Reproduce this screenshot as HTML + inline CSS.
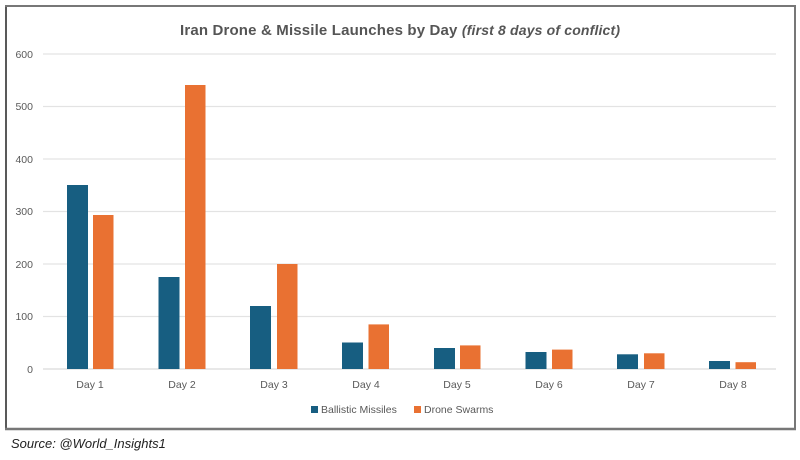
<!DOCTYPE html>
<html><head><style>body{margin:0;background:#fff;}</style></head><body>
<svg width="800" height="455" xmlns="http://www.w3.org/2000/svg" font-family="Liberation Sans, sans-serif">
<rect x="0" y="0" width="800" height="455" fill="#fff"/>
<rect x="6" y="6" width="789" height="423" fill="#fff" stroke="#222" stroke-width="1.5"/>
<line x1="5" y1="6" x2="796" y2="6" stroke="#777" stroke-width="2"/>
<line x1="5" y1="429" x2="796" y2="429" stroke="#777" stroke-width="2.5"/>
<line x1="795" y1="5" x2="795" y2="430" stroke="#777" stroke-width="2"/>
<text x="400" y="35" text-anchor="middle" font-size="15" font-weight="bold" fill="#555" textLength="440">Iran Drone &amp; Missile Launches by Day <tspan font-style="italic" font-size="14">(first 8 days of conflict)</tspan></text>
<g stroke="#e3e3e3" stroke-width="1.2">
<line x1="43" y1="54" x2="776" y2="54"/><line x1="43" y1="106.5" x2="776" y2="106.5"/>
<line x1="43" y1="159" x2="776" y2="159"/><line x1="43" y1="211.5" x2="776" y2="211.5"/>
<line x1="43" y1="264" x2="776" y2="264"/><line x1="43" y1="316.5" x2="776" y2="316.5"/>
<line x1="43" y1="369" x2="776" y2="369" stroke="#d9d9d9"/>
</g>
<g font-size="10.5" fill="#595959" text-anchor="end">
<text x="33" y="58">600</text><text x="33" y="110">500</text><text x="33" y="163">400</text>
<text x="33" y="215">300</text><text x="33" y="268">200</text><text x="33" y="320">100</text><text x="33" y="373">0</text>
</g>
<g fill="#175e81">
<rect x="67" y="185" width="21" height="184"/>
<rect x="158.5" y="277" width="21" height="92"/>
<rect x="250" y="306" width="21" height="63"/>
<rect x="342" y="342.5" width="21" height="26.5"/>
<rect x="434" y="348" width="21" height="21"/>
<rect x="525.5" y="352" width="21" height="17"/>
<rect x="617" y="354.3" width="21" height="14.7"/>
<rect x="709" y="361" width="21" height="8"/>
</g>
<g fill="#e97132">
<rect x="93" y="215" width="20.5" height="154"/>
<rect x="185" y="85" width="20.5" height="284"/>
<rect x="277" y="264" width="20.5" height="105"/>
<rect x="368.5" y="324.4" width="20.5" height="44.6"/>
<rect x="460" y="345.4" width="20.5" height="23.6"/>
<rect x="552" y="349.6" width="20.5" height="19.4"/>
<rect x="644" y="353.3" width="20.5" height="15.7"/>
<rect x="735.5" y="362.2" width="20.5" height="6.8"/>
</g>
<g font-size="10.5" fill="#595959" text-anchor="middle">
<text x="90" y="388">Day 1</text><text x="182" y="388">Day 2</text><text x="274" y="388">Day 3</text><text x="366" y="388">Day 4</text>
<text x="457" y="388">Day 5</text><text x="549" y="388">Day 6</text><text x="641" y="388">Day 7</text><text x="733" y="388">Day 8</text>
</g>
<rect x="311" y="406" width="7" height="7" fill="#175e81"/>
<text x="321" y="413" font-size="10.5" fill="#595959">Ballistic Missiles</text>
<rect x="414" y="406" width="7" height="7" fill="#e97132"/>
<text x="424" y="413" font-size="10.5" fill="#595959">Drone Swarms</text>
<text x="11" y="448" font-size="13" font-style="italic" fill="#222">Source:  @World_Insights1</text>
</svg>
</body></html>
